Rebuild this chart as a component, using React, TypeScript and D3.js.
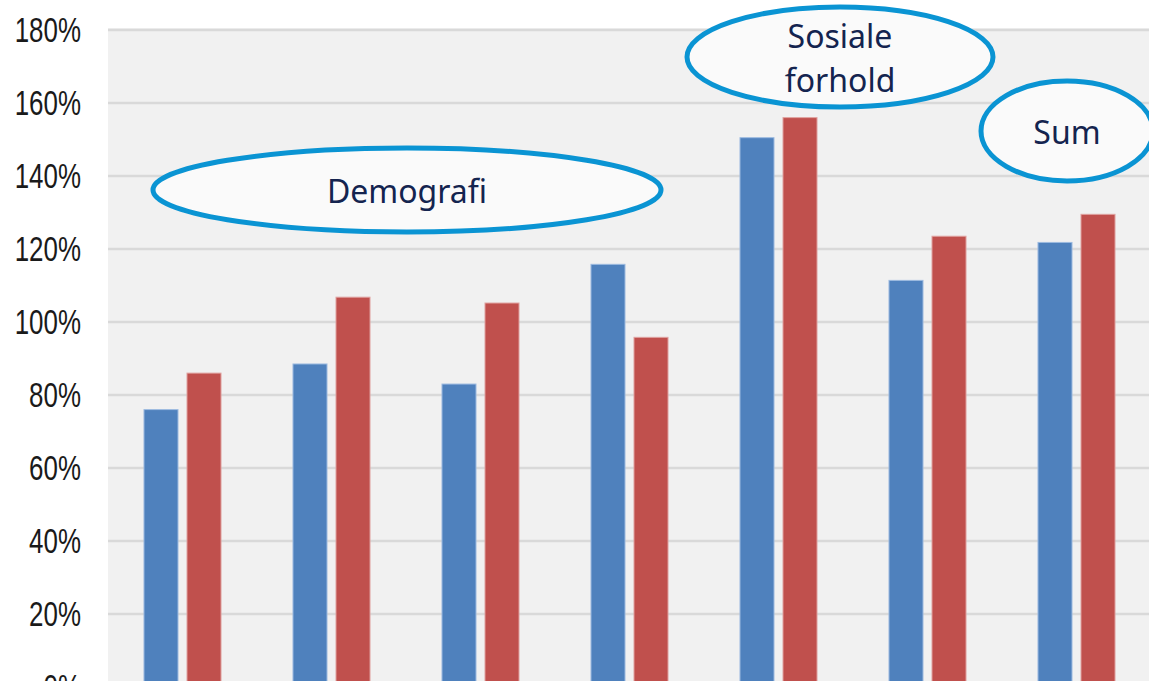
import React from 'react';
import * as d3 from 'd3';

// groups have no visible category labels in the source
const groups = ['g1', 'g2', 'g3', 'g4', 'g5', 'g6', 'g7'];
const seriesKeys = ['a', 'b'];
const seriesA = [76, 88.5, 83, 115.8, 150.5, 111.4, 121.8];
const seriesB = [86, 106.8, 105.2, 95.8, 156, 123.5, 129.5];
const yTicks = [0, 20, 40, 60, 80, 100, 120, 140, 160, 180];

const colors = { a: '#4f81bd', b: '#c0504d' };
const strokes = { a: '#9dbbe0', b: '#e0a3a1' };

// callouts drawn over the plot
const callouts = [
  { lines: ['Demografi'], cx: 407, cy: 190, rx: 254, ry: 42 },
  { lines: ['Sosiale', 'forhold'], cx: 840, cy: 57, rx: 153, ry: 50 },
  { lines: ['Sum'], cx: 1067, cy: 131, rx: 86, ry: 50 },
];

const W = 1149;
const H = 681;

export default function App() {
  const left = 108;
  const right = 1151;

  const y = d3.scaleLinear().domain([0, 180]).range([687, 30]);

  const x0 = d3.scaleBand<string>()
    .domain(groups)
    .range([left, right])
    .paddingInner(0.483)
    .paddingOuter(0.2415);

  const x1 = d3.scaleBand<string>()
    .domain(seriesKeys)
    .range([0, x0.bandwidth()])
    .paddingInner(0.209);

  const rows = groups.map((g, i) => ({ g, a: seriesA[i], b: seriesB[i] }));

  return (
    <svg width={W} height={H} style={{ position: 'fixed', left: 0, top: 0, background: '#fff' }}>
      <rect x={left} y={y(180) - 2} width={right - left} height={H - y(180) + 2} fill="#f1f1f1" />

      {yTicks.map((t) => (
        <g key={t}>
          <line x1={left} x2={right} y1={y(t)} y2={y(t)} stroke="#d9d9d9" strokeWidth={2.5} />
          {/* condensed look, like the source's narrow font */}
          <g transform={`translate(81,${y(t)}) scale(0.72,1)`}>
            <text
              x={0}
              y={0}
              textAnchor="end"
              dominantBaseline="central"
              fontFamily="'Liberation Sans', Arial, sans-serif"
              fontSize={36}
              fill="#1a1a1a"
            >
              {t}%
            </text>
          </g>
        </g>
      ))}

      {rows.map((r) => (
        <g key={r.g} transform={`translate(${x0(r.g)},0)`}>
          {seriesKeys.map((k) => {
            const v = (r as any)[k] as number;
            return (
              <rect
                key={k}
                x={x1(k)}
                y={y(v)}
                width={x1.bandwidth()}
                height={y(0) - y(v)}
                fill={(colors as any)[k]}
                stroke={(strokes as any)[k]}
                strokeWidth={1}
              />
            );
          })}
        </g>
      ))}

      {callouts.map((c, i) => (
        <g key={i}>
          <ellipse cx={c.cx} cy={c.cy} rx={c.rx} ry={c.ry} fill="#fafafa" stroke="#0a94d3" strokeWidth={5} />
          {c.lines.map((l, j) => (
            <text
              key={j}
              x={c.cx}
              y={c.cy + (j - (c.lines.length - 1) / 2) * 44}
              textAnchor="middle"
              dominantBaseline="central"
              fontFamily="'Noto Sans', 'Open Sans', sans-serif"
              fontSize={32}
              fill="#14244f"
            >
              {l}
            </text>
          ))}
        </g>
      ))}
    </svg>
  );
}
